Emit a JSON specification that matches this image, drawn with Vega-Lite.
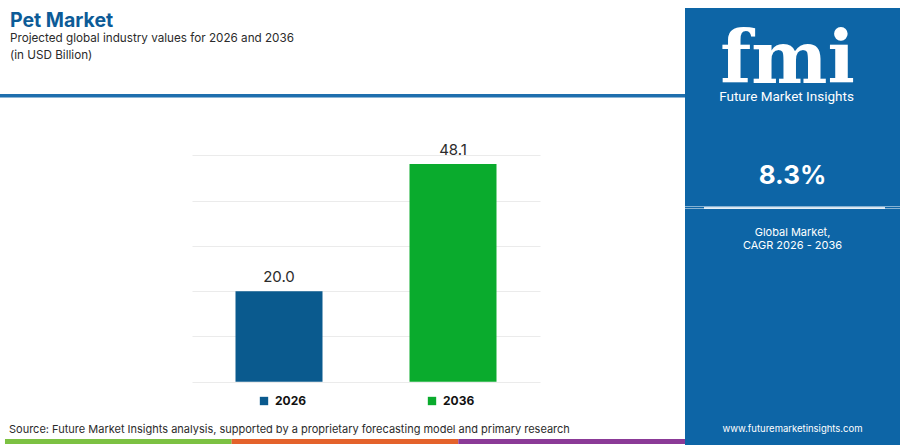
{
  "$schema": "https://vega.github.io/schema/vega-lite/v6.json",
  "padding": {"top": 8, "left": 0, "right": 0, "bottom": 0},
  "background": "white",
  "spacing": 0,
  "config": {
    "view": {"stroke": null},
    "font": "Inter",
    "concat": {"spacing": 0},
    "legend": {"layout": {"bottom": {"anchor": "middle"}}}
  },
  "resolve": {"scale": {"color": "independent"}, "legend": {"color": "independent"}},
  "hconcat": [
    {
      "spacing": 0,
      "resolve": {"scale": {"color": "independent"}, "legend": {"color": "independent"}},
      "vconcat": [
        {
          "width": 685,
          "height": 85.5,
          "data": {
            "values": [
              {"label": "Pet Market", "kind": "title"},
              {"label": "Projected global industry values for 2026 and 2036", "kind": "sub1"},
              {"label": "(in USD Billion)", "kind": "sub2"}
            ]
          },
          "layer": [
            {
              "transform": [{"filter": "datum.kind == 'title'"}],
              "mark": {"type": "text", "align": "left", "baseline": "alphabetic", "dx": -332.5, "dy": -24.05, "font": "Inter", "fontSize": 19.5, "fontWeight": "bold", "color": "#0c5b97"},
              "encoding": {"text": {"field": "label"}}
            },
            {
              "transform": [{"filter": "datum.kind == 'sub1'"}],
              "mark": {"type": "text", "align": "left", "baseline": "alphabetic", "dx": -332.5, "dy": -9.05, "font": "Inter", "fontSize": 11.7, "color": "#2b2b2b"},
              "encoding": {"text": {"field": "label"}}
            },
            {
              "transform": [{"filter": "datum.kind == 'sub2'"}],
              "mark": {"type": "text", "align": "left", "baseline": "alphabetic", "dx": -332.5, "dy": 7.95, "font": "Inter", "fontSize": 11.7, "color": "#2b2b2b"},
              "encoding": {"text": {"field": "label"}}
            }
          ]
        },
        {
          "width": 685,
          "height": 3.5,
          "data": {"values": []},
          "mark": "point",
          "view": {"fill": "#1f6fae", "stroke": null}
        },
        {
          "spacing": 0,
          "resolve": {"scale": {"color": "independent"}, "legend": {"color": "independent"}},
          "hconcat": [
            {
              "width": 192,
              "height": 10,
              "data": {"values": []},
              "mark": "point"
            },
            {
              "width": 348,
              "height": 283.7,
              "data": {
                "values": [
                  {"year": "2026", "value": 20.0},
                  {"year": "2036", "value": 48.1}
                ]
              },
              "encoding": {
                "x": {
                  "field": "year",
                  "type": "nominal",
                  "axis": null,
                  "scale": {"paddingInner": 0.5, "paddingOuter": 0.25}
                },
                "y": {
                  "field": "value",
                  "type": "quantitative",
                  "scale": {"domain": [0, 62.65], "nice": false},
                  "axis": {
                    "values": [0, 10, 20, 30, 40, 50],
                    "grid": true,
                    "gridColor": "#ebebeb",
                    "gridWidth": 1,
                    "labels": false,
                    "ticks": false,
                    "domain": false,
                    "title": null
                  }
                }
              },
              "layer": [
                {
                  "mark": {"type": "bar"},
                  "encoding": {
                    "color": {
                      "field": "year",
                      "type": "nominal",
                      "scale": {"domain": ["2026", "2036"], "range": ["#0a5a8e", "#0aab2d"]},
                      "legend": {
                        "orient": "bottom",
                        "direction": "horizontal",
                        "title": null,
                        "symbolType": "square",
                        "symbolSize": 70,
                        "symbolStrokeWidth": 0,
                        "labelFont": "Inter",
                        "labelFontSize": 12,
                        "labelFontWeight": "bold",
                        "labelColor": "#111111",
                        "labelOffset": 5,
                        "columnPadding": 119,
                        "offset": 13
                      }
                    }
                  }
                },
                {
                  "mark": {
                    "type": "text",
                    "baseline": "bottom",
                    "dy": -6,
                    "fontSize": 15,
                    "font": "Inter",
                    "color": "#2b2b2b"
                  },
                  "encoding": {
                    "text": {"field": "value", "type": "quantitative", "format": ".1f"}
                  }
                }
              ]
            }
          ]
        },
        {
          "width": 685,
          "height": 17,
          "data": {"values": []},
          "mark": "point"
        },
        {
          "width": 685,
          "height": 5,
          "title": {
            "text": "Source: Future Market Insights analysis, supported by a proprietary forecasting model and primary research",
            "anchor": "start",
            "dx": 9,
            "font": "Inter",
            "fontSize": 11,
            "fontWeight": "normal",
            "color": "#2b2b2b",
            "offset": 4
          },
          "data": {
            "values": [
              {"segment": "a", "share": 1},
              {"segment": "b", "share": 1},
              {"segment": "c", "share": 1}
            ]
          },
          "mark": "bar",
          "encoding": {
            "x": {
              "field": "share",
              "type": "quantitative",
              "stack": true,
              "axis": null,
              "scale": {"domain": [-0.022, 3], "nice": false, "zero": false}
            },
            "y": {
              "datum": "stripe",
              "type": "nominal",
              "axis": null,
              "scale": {"paddingInner": 0, "paddingOuter": 0}
            },
            "color": {
              "field": "segment",
              "type": "nominal",
              "legend": null,
              "scale": {"domain": ["a", "b", "c"], "range": ["#7cc142", "#e4622b", "#8b3a97"]}
            }
          }
        }
      ]
    },
    {
      "spacing": 0,
      "vconcat": [
        {
          "width": 215,
          "height": 198.5,
          "view": {"fill": "#0d65a6", "stroke": null},
          "data": {
            "values": [
              {"label": "fmi", "kind": "logo"},
              {"label": "Future Market Insights", "kind": "brand"},
              {"label": "8.3%", "kind": "cagr"}
            ]
          },
          "layer": [
            {
              "transform": [{"filter": "datum.kind == 'logo'"}],
              "mark": {
                "type": "text",
                "font": "DejaVu Serif",
                "fontWeight": "bold",
                "fontSize": 72,
                "baseline": "alphabetic",
                "color": "white",
                "dx": -5,
                "dy": -24.5
              },
              "encoding": {"text": {"field": "label"}}
            },
            {
              "transform": [{"filter": "datum.kind == 'brand'"}],
              "mark": {
                "type": "text",
                "font": "Roboto",
                "fontSize": 13.5,
                "baseline": "top",
                "color": "white",
                "dx": -6,
                "dy": -17
              },
              "encoding": {"text": {"field": "label"}}
            },
            {
              "transform": [{"filter": "datum.kind == 'cagr'"}],
              "mark": {
                "type": "text",
                "font": "Inter",
                "fontWeight": "bold",
                "fontSize": 26,
                "baseline": "alphabetic",
                "color": "white",
                "dy": 76.8
              },
              "encoding": {"text": {"field": "label"}}
            }
          ]
        },
        {
          "spacing": 0,
          "hconcat": [
            {"width": 19, "height": 1.5, "data": {"values": []}, "mark": "point", "view": {"fill": "#0d65a6", "stroke": null}},
            {"width": 181, "height": 1.5, "data": {"values": []}, "mark": "point", "view": {"fill": "#cfe1f0", "stroke": null}},
            {"width": 15, "height": 1.5, "data": {"values": []}, "mark": "point", "view": {"fill": "#0d65a6", "stroke": null}}
          ]
        },
        {
          "width": 215,
          "height": 237,
          "view": {"fill": "#0d65a6", "stroke": null},
          "data": {
            "values": [
              {"label": "Global Market,\nCAGR 2026 - 2036", "kind": "caption"},
              {"label": "www.futuremarketinsights.com", "kind": "web"}
            ]
          },
          "layer": [
            {
              "transform": [{"filter": "datum.kind == 'caption'"}],
              "mark": {"type": "text", "font": "Inter", "fontSize": 11, "lineHeight": 13, "lineBreak": "\n", "baseline": "middle", "color": "white", "dy": -94.5},
              "encoding": {"text": {"field": "label"}}
            },
            {
              "transform": [{"filter": "datum.kind == 'web'"}],
              "mark": {"type": "text", "font": "Inter", "fontSize": 9.5, "baseline": "middle", "color": "white", "dy": 101.8},
              "encoding": {"text": {"field": "label"}}
            }
          ]
        }
      ]
    }
  ]
}
